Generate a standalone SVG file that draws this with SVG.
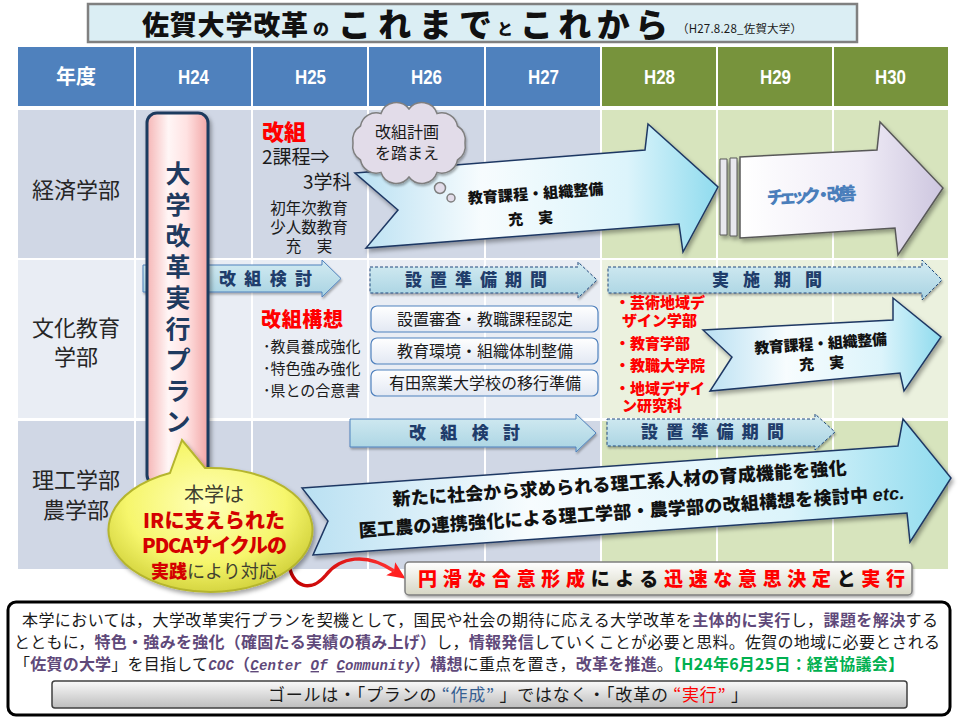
<svg xmlns="http://www.w3.org/2000/svg" width="960" height="720" viewBox="0 0 960 720">
<defs>
<style>
text{font-family:"Noto Sans CJK JP","Noto Sans",sans-serif;fill:#1a1a1a;}
.hd{fill:#fff;font-weight:bold;font-size:20px;text-anchor:middle;font-family:"Liberation Sans","Noto Sans CJK JP",sans-serif;}
.rl{font-size:22px;fill:#262626;text-anchor:middle;}
.bn{font-size:17px;font-weight:900;fill:#1f3d6b;}
.bnS{fill:url(#gBan);stroke:#4f81bd;stroke-width:1;filter:url(#sh1);}
.bnD{fill:url(#gBan);stroke:#1f497d;stroke-width:1;stroke-dasharray:3 2;filter:url(#sh1);}
.rr{fill:url(#gRR);stroke:#4f81bd;stroke-width:1.2;}
.rrt{font-size:16px;text-anchor:middle;}
.arw{fill:url(#gArw);stroke:#1f3864;stroke-width:1.5;filter:url(#sh);}
.at{font-weight:900;text-anchor:middle;fill:#111;}
.red{fill:#ff0000;font-weight:900;font-size:15px;}
.rd{fill:#ff0000;font-weight:900;}
.bl{font-size:15px;}
.b{font-weight:bold;fill:#5f497a;}
.g{font-weight:bold;fill:#00b050;}
.mono{font-family:"Liberation Mono",monospace;font-style:italic;font-size:14px;}
.ti{font-weight:900;fill:#111;}
</style>
<linearGradient id="gBan" x1="0" y1="0" x2="0" y2="1"><stop offset="0" stop-color="#d3ebf2"/><stop offset="1" stop-color="#a8d3e2"/></linearGradient>
<linearGradient id="gRR" x1="0" y1="0" x2="0" y2="1"><stop offset="0" stop-color="#ffffff"/><stop offset="1" stop-color="#e2e8f3"/></linearGradient>
<linearGradient id="gArw" x1="0" y1="0" x2="1" y2="0"><stop offset="0" stop-color="#b9e0f2"/><stop offset="0.35" stop-color="#f7fcfe"/><stop offset="0.75" stop-color="#dcf4fb"/><stop offset="1" stop-color="#8fdbee"/></linearGradient>
<linearGradient id="gChk" x1="0" y1="0" x2="1" y2="0"><stop offset="0" stop-color="#ffffff"/><stop offset="0.6" stop-color="#efebf6"/><stop offset="1" stop-color="#cdc6df"/></linearGradient>
<linearGradient id="gPink" x1="0" y1="0" x2="1" y2="0"><stop offset="0" stop-color="#f5b5b5"/><stop offset="0.35" stop-color="#fff6f6"/><stop offset="0.65" stop-color="#ffe2e2"/><stop offset="1" stop-color="#f2a6a6"/></linearGradient>
<radialGradient id="gBub" cx="0.48" cy="0.42" r="0.6"><stop offset="0" stop-color="#ffffb8"/><stop offset="0.65" stop-color="#f6f66c"/><stop offset="1" stop-color="#d2d23c"/></radialGradient>
<linearGradient id="gGoal" x1="0" y1="0" x2="0" y2="1"><stop offset="0" stop-color="#fafafa"/><stop offset="1" stop-color="#bdbdbd"/></linearGradient>
<linearGradient id="gBot" x1="0" y1="0" x2="0" y2="1"><stop offset="0" stop-color="#ffffff"/><stop offset="1" stop-color="#d6d6c4"/></linearGradient>
<linearGradient id="gRed" x1="0" y1="0" x2="1" y2="0"><stop offset="0" stop-color="#c00000"/><stop offset="1" stop-color="#ff3030"/></linearGradient>
<filter id="sh" x="-10%" y="-15%" width="125%" height="140%"><feDropShadow dx="2" dy="3" stdDeviation="2" flood-color="#000" flood-opacity="0.35"/></filter>
<filter id="sh1" x="-5%" y="-20%" width="115%" height="160%"><feDropShadow dx="1" dy="2" stdDeviation="1.2" flood-color="#000" flood-opacity="0.3"/></filter>
<marker id="mRed" markerUnits="userSpaceOnUse" markerWidth="18" markerHeight="16" viewBox="0 0 18 16" refX="4" refY="8" orient="auto"><path d="M0,0 L18,8 L0,16 L4,8 z" fill="#ff2020"/></marker>
</defs>

<rect x="0" y="0" width="960" height="720" fill="#ffffff"/>

<g id="title">
<rect x="88" y="4" width="769" height="38" fill="#dbeef4" stroke="#808080" stroke-width="2.5"/>
<text class="ti" x="142" y="35" font-size="27" textLength="166">佐賀大学改革</text>
<text class="ti" x="313" y="35" font-size="16">の</text>
<text class="ti" x="338" y="37" font-size="33" textLength="154">これまで</text>
<text class="ti" x="497" y="35" font-size="16">と</text>
<text class="ti" x="520" y="37" font-size="33" textLength="148">これから</text>
<text x="677" y="33" font-size="11.5" textLength="125">（H27.8.28_佐賀大学）</text>
</g>

<g id="grid">
<rect x="18" y="47" width="583" height="59" fill="#4f81bd"/>
<rect x="601" y="47" width="347" height="59" fill="#77933c"/>
<rect x="18" y="110" width="583" height="148" fill="#d0d7e5"/>
<rect x="601" y="110" width="347" height="148" fill="#d7e4bd"/>
<rect x="18" y="260" width="583" height="158" fill="#e9edf4"/>
<rect x="601" y="260" width="347" height="158" fill="#ebf1de"/>
<rect x="18" y="421" width="583" height="148" fill="#d0d7e5"/>
<rect x="601" y="421" width="347" height="148" fill="#d7e4bd"/>
<g stroke="#ffffff" stroke-width="2">
<line x1="135" y1="47" x2="135" y2="569"/><line x1="252" y1="47" x2="252" y2="569"/>
<line x1="368" y1="47" x2="368" y2="569"/><line x1="485" y1="47" x2="485" y2="569"/>
<line x1="601" y1="47" x2="601" y2="569"/><line x1="717" y1="47" x2="717" y2="569"/>
<line x1="833" y1="47" x2="833" y2="569"/>
</g>
<text class="hd" x="76" y="84" style="font-family:'Noto Sans CJK JP',sans-serif">年度</text>
<text class="hd" x="178" y="84" text-anchor="start" textLength="31" lengthAdjust="spacingAndGlyphs" style="text-anchor:start">H24</text>
<text class="hd" x="295" y="84" textLength="31" lengthAdjust="spacingAndGlyphs" style="text-anchor:start">H25</text>
<text class="hd" x="411" y="84" textLength="31" lengthAdjust="spacingAndGlyphs" style="text-anchor:start">H26</text>
<text class="hd" x="528" y="84" textLength="31" lengthAdjust="spacingAndGlyphs" style="text-anchor:start">H27</text>
<text class="hd" x="644" y="84" textLength="31" lengthAdjust="spacingAndGlyphs" style="text-anchor:start">H28</text>
<text class="hd" x="760" y="84" textLength="31" lengthAdjust="spacingAndGlyphs" style="text-anchor:start">H29</text>
<text class="hd" x="875" y="84" textLength="31" lengthAdjust="spacingAndGlyphs" style="text-anchor:start">H30</text>
<text class="rl" x="76" y="198">経済学部</text>
<text class="rl" x="76" y="336">文化教育</text>
<text class="rl" x="76" y="365">学部</text>
<text class="rl" x="76" y="488">理工学部</text>
<text class="rl" x="76" y="518">農学部</text>
</g>

<g id="banners">
<polygon class="bnS" points="143,265 322,265 322,260 341,278.5 322,297 322,292 143,292"/>
<text class="bn" x="219" y="285" textLength="93">改組検討</text>
<polygon class="bnD" points="370,267 578,267 578,262 597,280 578,298 578,293 370,293"/>
<text class="bn" x="405" y="286" textLength="142">設置準備期間</text>
<polygon class="bnD" points="608,267 922,267 922,260 942,280 922,300 922,293 608,293"/>
<text class="bn" x="712" y="286" textLength="110">実施期間</text>
<polygon class="bnS" points="350,419 576,419 576,414 596,433 576,452 576,447 350,447"/>
<text class="bn" x="409" y="439" textLength="111">改組検討</text>
<polygon class="bnD" points="607,419 815,419 815,414 835,432 815,450 815,446 607,446"/>
<text class="bn" x="641" y="438" textLength="143">設置準備期間</text>
</g>

<g id="boxes-h26">
<rect class="rr" x="371" y="306" width="227" height="26" rx="6"/>
<text class="rrt" x="485" y="325">設置審査・教職課程認定</text>
<rect class="rr" x="371" y="338" width="227" height="26" rx="6"/>
<text class="rrt" x="485" y="357">教育環境・組織体制整備</text>
<rect class="rr" x="371" y="370" width="227" height="26" rx="6"/>
<text class="rrt" x="485" y="389">有田窯業大学校の移行準備</text>
</g>

<g id="keizai-text">
<text class="rd" x="262" y="140" font-size="22">改組</text>
<text x="262" y="164" font-size="19">2課程⇒</text>
<text x="303" y="189" font-size="19">3学科</text>
<text x="309" y="214" font-size="15.5" text-anchor="middle">初年次教育</text>
<text x="309" y="233" font-size="15.5" text-anchor="middle">少人数教育</text>
<text x="309" y="252" font-size="15.5" text-anchor="middle">充　実</text>
</g>

<g id="bunka-text">
<text class="rd" x="261" y="327" font-size="20" textLength="82">改組構想</text>
<text class="bl" x="263" y="352">･教員養成強化</text>
<text class="bl" x="263" y="374">･特色強み強化</text>
<text class="bl" x="263" y="396">･県との合意書</text>
<text class="red" x="615" y="308">・芸術地域デ</text>
<text class="red" x="622" y="326">ザイン学部</text>
<text class="red" x="615" y="349">・教育学部</text>
<text class="red" x="615" y="371">・教職大学院</text>
<text class="red" x="615" y="394">・地域デザイ</text>
<text class="red" x="622" y="411">ン研究科</text>
</g>

<g id="connectors">
<g id="arrow-keizai">
<polygon class="arw" points="355,173 645,150 648,124 718,187 683,252 679,224 366,248 398,210"/>
<text class="at" x="536" y="199" font-size="15" textLength="136" transform="rotate(-4 536 199)">教育課程・組織整備</text>
<text class="at" x="531" y="224" font-size="15" transform="rotate(-4 531 224)">充　実</text>
</g>
<g id="arrow-check">
<g filter="url(#sh)">
<polygon points="720,159 727,159 727,235 720,235" fill="#e8e8ee" stroke="#595959" stroke-width="1"/>
<polygon points="730,158 737,158 737,236 730,236" fill="#e8e8ee" stroke="#595959" stroke-width="1"/>
<polygon points="740,157 877,150 880,122 943,188 898,255 895,228 740,238" fill="url(#gChk)" stroke="#595959" stroke-width="1.5"/>
</g>
<text class="at" x="812" y="202" font-size="18" textLength="90" transform="rotate(-3 812 202)" style="fill:#4a7ebb">チェック・改善</text>
</g>
<g id="arrow-bunka">
<polygon class="arw" points="703,330 893,320 893,298 941,337 904,391 900,373 710,391 732,357"/>
<text class="at" x="821" y="349" font-size="15" textLength="133" transform="rotate(-4 821 349)">教育課程・組織整備</text>
<text class="at" x="822" y="369" font-size="15" transform="rotate(-4 822 369)">充　実</text>
</g>
<g id="arrow-riko">
<polygon class="arw" points="302,488 898,446 903,419 951,478 910,542 907,513 313,555 328,521"/>
<text class="at" x="620" y="490" font-size="18" textLength="455" transform="rotate(-4 620 490)">新たに社会から求められる理工系人材の育成機能を強化</text>
<text class="at" x="632" y="518" font-size="18" textLength="547" transform="rotate(-4 632 518)">医工農の連携強化による理工学部・農学部の改組構想を検討中 <tspan font-family="Liberation Sans" font-style="italic" font-weight="bold">etc.</tspan></text>
</g>
<path id="red-curve" d="M288,560 C292,590 312,592 326,575 C340,557 366,552 394,571" fill="none" stroke="url(#gRed)" stroke-width="3.5" marker-end="url(#mRed)"/>
</g>

<g id="cloud">
<path d="M465,143 A16,16 0 0,1 457.5,160 A16,16 0 0,1 437,172.4 A16,16 0 0,1 409,177 A16,16 0 0,1 381,172.4 A16,16 0 0,1 360.5,160 A16,16 0 0,1 353,143 A16,16 0 0,1 360.5,126 A16,16 0 0,1 381,113.6 A16,16 0 0,1 409,109 A16,16 0 0,1 437,113.6 A16,16 0 0,1 457.5,126 A16,16 0 0,1 465,143 Z" fill="#e2dce9" stroke="#7f7f7f" stroke-width="1.5" filter="url(#sh1)"/>
<circle cx="440" cy="188" r="5.5" fill="#e2dce9" stroke="#7f7f7f" stroke-width="1.5"/>
<circle cx="451" cy="198" r="4" fill="#e2dce9" stroke="#7f7f7f" stroke-width="1.5"/>
<text x="407" y="138" font-size="16" text-anchor="middle">改組計画</text>
<text x="407" y="159" font-size="16" text-anchor="middle">を踏まえ</text>
</g>

<g id="plan">
<rect x="147" y="113" width="61" height="372" rx="10" fill="url(#gPink)" stroke="#1f3a5f" stroke-width="3" filter="url(#sh)"/>
<text x="178" y="183" font-size="25" font-weight="bold" text-anchor="middle" style="fill:#1f3a5f">大<tspan x="178" dy="31">学</tspan><tspan x="178" dy="31">改</tspan><tspan x="178" dy="31">革</tspan><tspan x="178" dy="31">実</tspan><tspan x="178" dy="31">行</tspan><tspan x="178" dy="31">プ</tspan><tspan x="178" dy="31">ラ</tspan><tspan x="178" dy="31">ン</tspan></text>
</g>

<g id="bubble">
<path d="M170,473 A102,62 0 1 0 205,468 L182,440 Z" fill="url(#gBub)" stroke="#b5b52e" stroke-width="2" filter="url(#sh)"/>
<text x="214" y="502" font-size="20" text-anchor="middle" style="fill:#404030">本学は</text>
<text x="143" y="528" font-size="20" font-weight="900" textLength="142" style="fill:#d40000">IRに支えられた</text>
<text x="142" y="553" font-size="20" font-weight="900" textLength="145" style="fill:#d40000">PDCAサイクルの</text>
<text x="151" y="578" font-size="18"><tspan font-weight="900" style="fill:#d40000">実践</tspan><tspan style="fill:#404030">により対応</tspan></text>
</g>

<g id="decision">
<rect x="405" y="562" width="507" height="33" rx="4" fill="url(#gBot)" stroke="#7f7f7f" stroke-width="1.5" filter="url(#sh1)"/>
<text x="418" y="586" font-size="19" font-weight="900" textLength="487"><tspan style="fill:#ff0000">円滑な合意形成</tspan><tspan style="fill:#111">による</tspan><tspan style="fill:#ff0000">迅速な意思決定</tspan><tspan style="fill:#111">と</tspan><tspan style="fill:#ff0000">実行</tspan></text>
</g>

<g id="summary">
<rect x="8" y="602" width="942" height="113" rx="8" fill="#ffffff" stroke="#000000" stroke-width="3"/>
<text x="22" y="626" font-size="16" textLength="916">本学においては，大学改革実行プランを契機として，国民や社会の期待に応える大学改革を<tspan class="b">主体的に実行</tspan>し，<tspan class="b">課題を解決</tspan>する</text>
<text x="14" y="648" font-size="16" textLength="926">とともに，<tspan class="b">特色・強みを強化（確固たる実績の積み上げ）</tspan>し，<tspan class="b">情報発信</tspan>していくことが必要と思料。佐賀の地域に必要とされる</text>
<text x="14" y="670" font-size="16" textLength="890">「<tspan class="b">佐賀の大学</tspan>」を目指して<tspan class="b mono">COC</tspan><tspan class="b">（</tspan><tspan class="b mono"><tspan text-decoration="underline">C</tspan>enter <tspan text-decoration="underline">O</tspan>f <tspan text-decoration="underline">C</tspan>ommunity</tspan><tspan class="b">）構想</tspan>に重点を置き，<tspan class="b">改革を推進</tspan>。<tspan class="g">【H24年6月25日：経営協議会】</tspan></text>
<rect x="52" y="681" width="855" height="27" rx="3" fill="url(#gGoal)" stroke="#404040" stroke-width="1.5"/>
<text x="268" y="701" font-size="17" textLength="480">ゴールは・「プランの <tspan style="fill:#366092">“作成”</tspan> 」ではなく・「改革の <tspan style="fill:#ff0000">“実行”</tspan> 」</text>
</g>
</svg>
